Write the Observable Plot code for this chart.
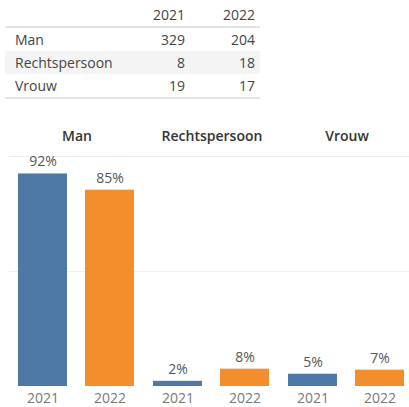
<!DOCTYPE html>
<html><head><meta charset="utf-8">
<script src="https://cdn.jsdelivr.net/npm/d3@7"></script>
<script src="https://cdn.jsdelivr.net/npm/@observablehq/plot@0.6"></script>
<style>
body{margin:0;background:#fff;font-family:"Open Sans",sans-serif;overflow:hidden;width:409px;height:407px;position:relative}
#tbl{position:absolute;left:5px;top:3px;border-collapse:collapse;table-layout:fixed;font-size:14px;color:#444}
#tbl th,#tbl td{height:23px;padding:0 5px 0 10px;font-weight:normal;white-space:nowrap}
#tbl th{text-align:right;border-bottom:2px solid #e4e4e4}
#tbl td.num{text-align:right}
#tbl tr.shade td{background:#f4f4f4}
#tbl tr:last-child td{border-bottom:2px solid #e4e4e4}
#chart{position:absolute;left:0;top:110px}
</style></head>
<body>
<table id="tbl"></table>
<div id="chart"></div>
<script>
const categories = ["Man", "Rechtspersoon", "Vrouw"];
const years = ["2021", "2022"];
const counts2021 = [329, 8, 19];
const counts2022 = [204, 18, 17];
const yearColors = ["#4e79a7", "#f28e2b"];

// table
const tbl = document.getElementById("tbl");
let html = `<tr><th style="width:115px"></th><th style="width:40px">${years[0]}</th><th style="width:55px">${years[1]}</th></tr>`;
categories.forEach((c, i) => {
  html += `<tr class="${i === 1 ? "shade" : ""}"><td>${c}</td><td class="num">${counts2021[i]}</td><td class="num">${counts2022[i]}</td></tr>`;
});
tbl.innerHTML = html;

// data
const series = [counts2021, counts2022];
const data = [];
categories.forEach((c, i) => {
  years.forEach((y, j) => {
    const total = d3.sum(series[j]);
    data.push({cat: c, year: y, pct: series[j][i] / total});
  });
});

const chart = Plot.plot({
  width: 414,
  height: 297,
  marginLeft: 8,
  marginRight: 0,
  marginTop: 46,
  marginBottom: 21,
  style: {fontFamily: "Open Sans, sans-serif", background: "#fff", maxWidth: "none"},
  fx: {domain: categories, padding: 0, label: null},
  x: {domain: years, paddingInner: 0.265, paddingOuter: 0.13, label: null},
  y: {domain: [0, 1], axis: null},
  color: {domain: years, range: yearColors},
  marks: [
    Plot.ruleY([0.5], {stroke: "#efefef"}),
    Plot.ruleY([1], {stroke: "#ececec"}),
    Plot.barY(data, {fx: "cat", x: "year", y: "pct", fill: "year"}),
    Plot.text(data, {fx: "cat", x: "year", y: "pct", text: d => Math.round(d.pct * 100) + "%", dy: -12, fill: "#555", fontSize: 14}),
    Plot.axisFx({anchor: "top", tickSize: 0, tickPadding: 16, fontSize: 14, fontWeight: 600, fill: "#333", label: null}),
    Plot.axisX({anchor: "bottom", tickSize: 0, tickPadding: 7, fontSize: 14, fill: "#777", label: null})
  ]
});
document.getElementById("chart").appendChild(chart);
</script>
</body></html>
